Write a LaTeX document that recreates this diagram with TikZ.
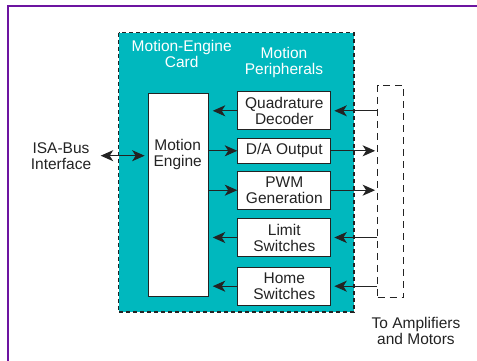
\documentclass[tikz,border=0pt]{standalone}
\usepackage{fontspec}
\setmainfont{Liberation Sans}
\usepackage{tikz}
\usetikzlibrary{arrows.meta, positioning}

\definecolor{cardteal}{RGB}{0,184,190}
\definecolor{framepurple}{RGB}{108,20,160}
\definecolor{inkgray}{RGB}{35,35,35}

\tikzset{
  blk/.style={draw=inkgray, line width=1.1pt, fill=white, align=center,
    inner sep=0pt, minimum width=93pt, text=inkgray},
  lbl/.style={align=center, inner sep=0pt, text=inkgray},
  cardlbl/.style={align=center, inner sep=0pt, text=white},
  sig/.style={draw=inkgray, line width=1pt, -{Stealth[length=12.5pt,width=11pt,inset=3.5pt]}}
}

\begin{document}
\begin{tikzpicture}[x=1pt, y=-1pt, font=\fontsize{15.5}{16}\selectfont]
        \useasboundingbox (0,0) rectangle (477,361);
        % Rahmen
        \draw[framepurple, line width=2.4pt] (8,361) -- (8,6) -- (477,6);

        % Karte
        \draw[fill=cardteal, draw=inkgray, line width=1.1pt, dash pattern=on 4pt off 3pt]
          (118.7,32.7) rectangle (354,312);
        \node[cardlbl] (cardlbl) at (181.7,53.5) {Motion-Engine\\Card};
        \node[cardlbl] (perlbl) at (284,62.3) {Motion\\Peripherals};

        % Motion Engine
        \node[blk, minimum width=60pt, minimum height=202.7pt] (engine) at (178.7,194.7) {};
        \node[lbl] (enginelbl) at (177.7,154.7) {Motion\\Engine};

        % Peripherie
        \node[blk, minimum height=37.7pt] (quad) at (284.3,110.8) {Quadrature\\Decoder};
        \node[blk, minimum height=25pt] (dac) at (284.3,150.8) {D/A Output};
        \node[blk, minimum height=37.7pt] (pwm) at (284.3,190.2) {PWM\\Generation};
        \node[blk, minimum height=37.7pt] (limit) at (284.3,237.5) {Limit\\Switches};
        \node[blk, minimum height=37.7pt] (home) at (284.3,286.2) {Home\\Switches};

        % Verstaerker
        \node[draw=inkgray, line width=1.1pt, dash pattern=on 7pt off 5pt,
          minimum width=26pt, minimum height=212.4pt, inner sep=0pt] (amp) at (390.7,191.5) {};
        \node[lbl] (amplbl) at (416,330.7) {To Amplifiers\\and Motors};

        % ISA-Bus
        \node[lbl] (isa) at (61,156) {ISA-Bus\\Interface};
        \coordinate (isaend) at (100.7,155.7);
        \draw[sig, {Stealth[length=12.5pt,width=11pt,inset=3.5pt]}-{Stealth[length=12.5pt,width=11pt,inset=3.5pt]}, shorten >=3.5pt]
          (isaend) -- (engine.west |- isaend);

        % Signale
        \draw[sig, shorten >=3.5pt] (quad.west) -- (engine.east |- quad.west);
        \draw[sig] (engine.east |- dac.west) -- (dac.west);
        \draw[sig] (engine.east |- pwm.west) -- (pwm.west);
        \draw[sig, shorten >=3.5pt] (limit.west) -- (engine.east |- limit.west);
        \draw[sig, shorten >=3.5pt] (home.west) -- (engine.east |- home.west);

        \draw[sig, shorten >=3pt] (amp.west |- quad.east) -- (quad.east);
        \draw[sig, shorten >=2pt] (dac.east) -- (amp.west |- dac.east);
        \draw[sig, shorten >=2pt] (pwm.east) -- (amp.west |- pwm.east);
        \draw[sig, shorten >=3pt] (amp.west |- limit.east) -- (limit.east);
        \draw[sig, shorten >=3pt] (amp.west |- home.east) -- (home.east);
      \end{tikzpicture}
\end{document}
